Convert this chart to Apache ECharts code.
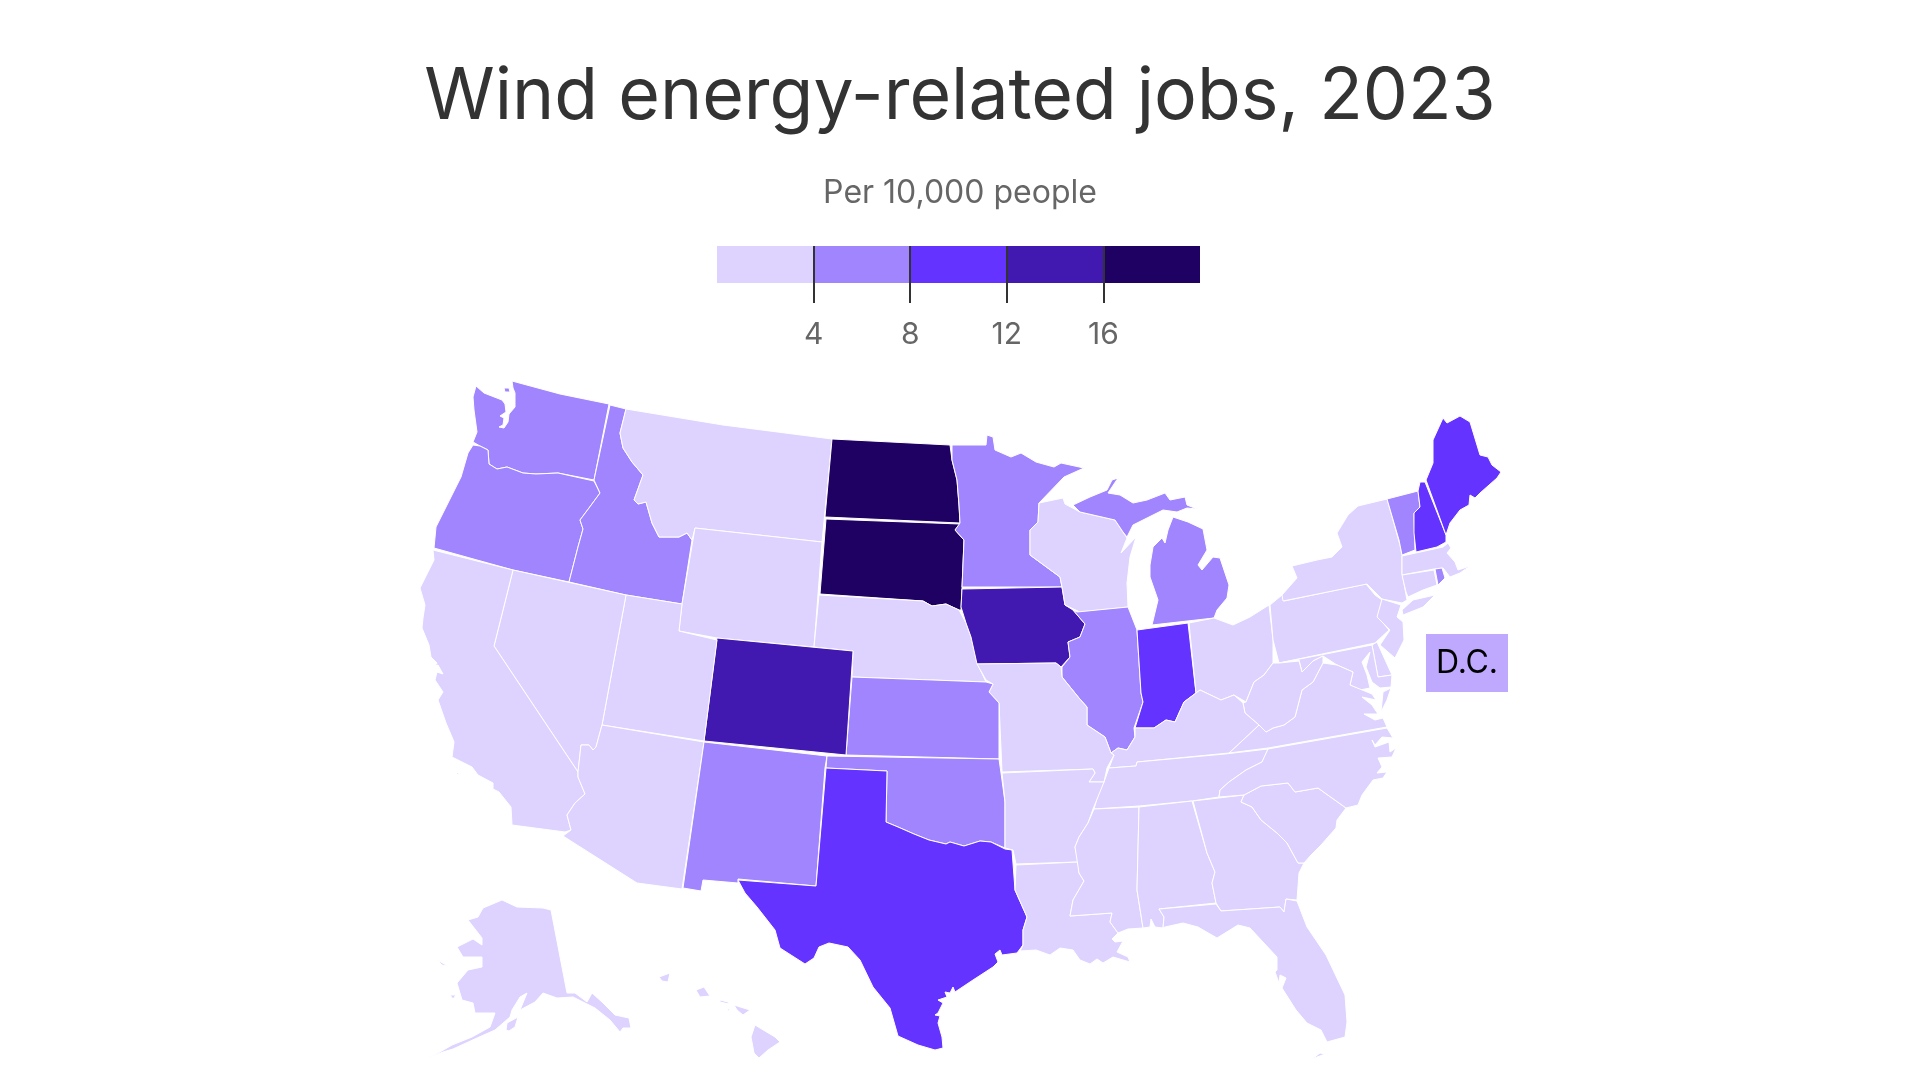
<!DOCTYPE html>
<html>
<head>
<meta charset="utf-8">
<title>Wind energy-related jobs, 2023</title>
<script src="https://cdn.jsdelivr.net/npm/echarts@6/dist/echarts.min.js"></script>
<style>
  html, body { margin: 0; background: #fff; }
  #chart { width: 1920px; height: 1080px; }
</style>
</head>
<body>
<div id="chart"></div>
<script>
// colour bins, upper bound of each bin in jobs per 10,000 people
const binEdges = [4, 8, 12, 16, 20]
const binColors = ['#ded3ff', '#a185ff', '#6533ff', '#4118b0', '#1f0063']
const tickLabels = [4, 8, 12, 16]
const dcColor = '#bfa9ff'

// values read from the shade of each state, estimated at mid bin
const lowStates = ['California', 'Nevada', 'Utah', 'Arizona', 'Montana', 'Wyoming', 'Nebraska', 'Missouri',
  'Arkansas', 'Louisiana', 'Wisconsin', 'Ohio', 'Kentucky', 'Tennessee', 'Mississippi', 'Alabama', 'Georgia',
  'Florida', 'South Carolina', 'North Carolina', 'Virginia', 'West Virginia', 'Pennsylvania', 'New York',
  'New Jersey', 'Delaware', 'Maryland', 'Connecticut', 'Massachusetts', 'Alaska', 'Hawaii']
const lowValues = lowStates.map(() => 2)
const midStates = ['Washington', 'Oregon', 'Idaho', 'New Mexico', 'Kansas', 'Oklahoma', 'Minnesota', 'Illinois',
  'Michigan', 'Vermont', 'Rhode Island']
const midValues = [6, 6, 6, 6, 6, 6, 6, 6, 6, 6, 6]
const highStates = ['Texas', 'Indiana', 'Maine', 'New Hampshire']
const highValues = [10, 10, 10, 10]
const veryHighStates = ['Colorado', 'Iowa']
const veryHighValues = [14, 14]
const topStates = ['North Dakota', 'South Dakota']
const topValues = [18, 18]

// state outlines, traced in the page's 1920x1080 space
const outlines = {
  'Washington': ['476,386 484,393 502,400 505,404 506,412 500,416 504,418 503,425 499,427 504,428 508,422 509,414 515,407 515,393 513,388 512,381 560,394 609,404 594,480 558,473 536,474 523,473 507,467 497,469 489,464 488,450 480,446 473,442 477,432 474,410 473,397',
    '504,388 509,388 510,392 505,392'],
  'Oregon': ['473,445 480,446 488,450 489,464 497,469 507,467 523,473 536,474 558,473 594,481 600,493 589,508 580,520 583,529 578,547 569,582 513,570 434,548 436,527 448,503 461,477 468,453'],
  'Idaho': ['610,405 626,409 620,433 623,448 632,462 643,475 634,500 638,504 646,502 652,523 659,537 679,537 687,533 692,540 682,604 626,595 569,582 578,547 583,529 580,520 589,508 600,493 594,480'],
  'Montana': ['626,409 723,425 832,439 822,542 695,528 692,540 687,533 679,537 659,537 652,523 646,502 638,504 634,500 643,475 632,462 623,448 620,433'],
  'Wyoming': ['695,528 822,542 814,647 717,638 679,631 682,604'],
  'North Dakota': ['832,439 950,445 952,460 957,480 959,505 960,523 825,517'],
  'South Dakota': ['826,519 960,524 955,530 964,540 962,588 961,610 959,610 946,604 932,606 923,601 820,594'],
  'Nebraska': ['819,595 923,601 932,606 946,604 959,610 966,623 971,637 977,663 986,682 852,677 853,651 814,647'],
  'Minnesota': ['952,445 986,445 987,435 993,437 995,450 1011,457 1021,453 1036,462 1054,467 1061,463 1084,468 1064,477 1039,503 1038,522 1030,530 1030,555 1060,577 1062,587 962,587 964,540 955,530 960,523 959,505 957,480 952,460'],
  'Iowa': ['962,589 1062,587 1065,605 1073,610 1085,624 1080,637 1068,642 1070,657 1061,667 1056,663 977,664 971,637 966,623 961,607'],
  'Wisconsin': ['1039,503 1063,498 1065,504 1080,512 1115,520 1123,532 1127,538 1121,553 1136,537 1130,557 1127,583 1128,607 1080,612 1065,605 1062,587 1060,577 1030,555 1030,530 1038,522'],
  'Michigan': ['1073,505 1090,497 1107,490 1112,480 1118,478 1108,493 1120,495 1133,503 1147,500 1165,493 1170,500 1185,497 1187,505 1197,509 1187,508 1177,512 1163,510 1147,518 1133,525 1127,537 1123,532 1115,520 1080,512',
    '1173,517 1188,522 1203,529 1207,550 1198,565 1202,570 1213,557 1220,558 1229,585 1227,598 1217,610 1214,618 1152,625 1158,600 1150,577 1150,565 1153,547 1162,538 1165,543 1168,530'],
  'Illinois': ['1077,612 1128,607 1137,630 1141,693 1143,702 1134,728 1135,737 1127,750 1118,748 1111,753 1105,737 1087,725 1087,707 1079,698 1062,677 1062,667 1070,657 1068,642 1080,637 1085,624 1073,610'],
  'Indiana': ['1137,630 1188,623 1196,693 1184,702 1175,722 1166,720 1154,728 1135,728 1143,702 1141,693'],
  'Ohio': ['1189,623 1214,618 1233,625 1250,617 1269,605 1273,640 1273,663 1264,675 1254,682 1246,702 1234,695 1221,700 1200,690 1196,693'],
  'Pennsylvania': ['1270,605 1282,595 1284,601 1366,584 1375,595 1382,600 1378,617 1389,630 1375,643 1279,663 1273,640'],
  'New York': ['1292,566 1317,560 1332,557 1342,547 1337,533 1348,515 1358,506 1387,499 1400,545 1402,555 1402,573 1407,600 1402,603 1382,599 1367,584 1283,601 1282,595 1297,578',
    '1402,610 1413,600 1435,595 1423,607 1403,615'],
  'New Jersey': ['1382,599 1401,605 1397,617 1403,622 1404,640 1395,658 1380,645 1390,630 1377,617'],
  'Vermont': ['1387,499 1418,491 1420,507 1414,513 1415,550 1402,555 1399,540'],
  'New Hampshire': ['1420,482 1425,482 1446,535 1446,542 1437,547 1416,552 1414,533 1414,513 1420,507 1418,491'],
  'Maine': ['1443,418 1447,423 1460,416 1470,422 1480,455 1488,457 1492,465 1501,472 1497,478 1480,493 1475,498 1470,495 1469,505 1460,510 1450,523 1446,535 1426,480 1433,463 1433,440'],
  'Massachusetts': ['1402,556 1443,547 1448,543 1451,548 1447,553 1455,562 1458,570 1470,566 1460,573 1450,577 1443,568 1434,569 1402,575'],
  'Rhode Island': ['1435,569 1442,568 1445,578 1438,585'],
  'Connecticut': ['1402,575 1434,570 1437,585 1423,590 1408,597 1406,592'],
  'Delaware': ['1372,645 1377,642 1382,653 1392,675 1378,677'],
  'Maryland': ['1279,663 1372,645 1378,677 1392,675 1391,687 1380,688 1372,682 1366,667 1370,652 1362,662 1367,675 1370,688 1360,690 1350,685 1353,672 1337,665 1323,656 1313,661 1302,672 1299,660'],
  'Virginia': ['1229,753 1243,740 1259,725 1266,732 1273,728 1284,725 1295,717 1302,690 1313,682 1323,663 1337,665 1353,672 1350,685 1372,694 1376,700 1362,697 1372,705 1378,714 1364,714 1375,720 1383,718 1387,727 1268,748',
    '1391,688 1383,692 1381,712 1387,700'],
  'West Virginia': ['1299,661 1302,672 1313,661 1323,656 1323,663 1313,682 1302,690 1295,717 1284,725 1273,728 1266,732 1259,725 1245,713 1243,703 1246,702 1254,682 1264,675 1273,663 1279,663'],
  'Kentucky': ['1200,690 1221,700 1234,695 1243,703 1245,713 1259,725 1243,740 1229,753 1137,762 1136,766 1109,768 1114,755 1111,753 1118,748 1127,750 1135,737 1135,728 1154,728 1166,720 1175,722 1184,702 1196,693'],
  'Tennessee': ['1109,768 1136,766 1137,762 1225,754 1268,749 1262,762 1246,770 1229,782 1220,790 1219,797 1192,801 1139,806 1094,809 1100,788 1104,782'],
  'Missouri': ['977,664 1056,663 1061,667 1062,677 1079,698 1087,707 1087,725 1105,737 1111,753 1114,755 1107,768 1104,782 1089,782 1095,773 1093,769 1002,772 999,703 989,692 993,684 986,680'],
  'Kansas': ['852,677 986,682 993,684 989,692 999,703 999,759 846,755'],
  'Colorado': ['717,638 853,651 846,755 704,741'],
  'Utah': ['626,595 682,604 679,631 717,640 704,741 602,725'],
  'Nevada': ['513,570 626,595 602,725 596,747 593,750 589,745 581,745 578,772 494,646'],
  'California': ['433,550 513,570 494,646 578,772 578,777 585,794 575,803 567,815 571,830 565,832 512,825 511,807 499,792 493,789 493,783 478,775 472,767 452,757 454,742 452,737 446,723 438,700 443,692 435,680 437,672 443,674 438,665 435,666 437,663 431,657 429,645 422,628 423,618 425,605 420,588 428,572 434,560',
    '456,773 459,773 458,775'],
  'Arizona': ['602,725 704,742 682,889 637,883 563,836 571,830 567,815 575,803 585,794 578,777 578,772 581,745 589,745 593,750 596,747'],
  'New Mexico': ['704,742 827,756 825,768 816,886 738,879 738,883 703,880 701,891 683,888'],
  'Oklahoma': ['827,756 999,759 1001,773 1005,802 1005,848 991,842 980,841 964,846 950,842 946,844 929,840 914,834 898,827 886,822 887,771 826,768'],
  'Texas': ['826,768 887,771 886,822 898,827 914,834 929,840 946,844 950,842 964,846 980,841 991,842 1005,849 1012,850 1015,890 1027,917 1023,930 1023,945 1017,953 1002,955 1000,950 995,954 998,962 993,967 973,980 955,992 953,987 950,993 945,992 947,997 938,1000 943,1003 938,1013 935,1015 940,1016 938,1023 942,1037 943,1048 935,1050 918,1045 898,1036 890,1008 873,987 860,960 848,947 829,943 819,947 814,958 805,964 780,948 775,930 757,907 745,893 738,880 816,886'],
  'Arkansas': ['1002,773 1093,769 1095,773 1089,782 1104,782 1093,809 1088,823 1079,837 1075,847 1078,862 1016,864 1013,850 1005,848 1005,802'],
  'Louisiana': ['1016,865 1078,862 1079,873 1084,881 1073,900 1070,916 1112,913 1110,922 1118,933 1112,939 1115,942 1123,941 1117,952 1128,957 1130,962 1113,957 1103,963 1097,959 1090,964 1080,960 1073,950 1060,948 1050,955 1036,950 1020,951 1023,945 1023,930 1027,917 1015,890'],
  'Mississippi': ['1094,809 1139,807 1137,890 1143,928 1128,929 1118,933 1110,922 1112,913 1070,916 1073,900 1084,881 1079,873 1075,847 1079,837 1088,823'],
  'Alabama': ['1139,807 1192,801 1207,853 1215,872 1212,883 1216,903 1159,909 1164,917 1163,928 1155,927 1151,919 1150,927 1143,928 1137,890'],
  'Georgia': ['1193,801 1244,795 1241,802 1252,807 1261,820 1277,833 1287,843 1298,863 1304,863 1299,873 1297,900 1286,899 1284,912 1280,907 1221,911 1216,903 1212,883 1215,872 1207,853'],
  'Florida': ['1159,909 1216,904 1221,911 1280,907 1284,912 1286,899 1297,901 1307,927 1326,955 1345,995 1347,1022 1345,1037 1327,1042 1321,1030 1307,1023 1296,1010 1282,988 1286,978 1280,975 1279,983 1275,972 1277,970 1277,957 1263,942 1250,928 1238,925 1217,938 1198,927 1183,923 1165,927 1163,928 1164,917',
    '1312,1059 1325,1054 1320,1053'],
  'South Carolina': ['1244,795 1261,786 1288,783 1295,792 1318,788 1346,808 1337,820 1336,828 1321,845 1311,855 1304,863 1298,863 1287,843 1277,833 1261,820 1252,807 1241,802'],
  'North Carolina': ['1268,749 1387,728 1393,738 1382,737 1375,745 1372,740 1375,747 1389,742 1390,752 1396,748 1392,757 1378,758 1382,767 1377,773 1387,772 1383,778 1373,780 1362,795 1358,805 1346,808 1318,788 1295,792 1288,783 1261,786 1244,795 1219,797 1220,790 1229,782 1246,770 1262,762'],
  'Alaska': ['551,910 567,993 575,993 587,1002 592,993 602,1002 615,1015 629,1018 631,1028 623,1028 620,1032 610,1020 595,1008 583,1002 573,997 557,998 543,993 535,1002 520,1010 527,993 520,997 512,1010 510,1017 495,1030 477,1038 453,1049 443,1052 428,1058 440,1052 452,1045 472,1037 490,1027 495,1013 475,1013 473,1003 462,1000 457,983 468,970 482,967 482,957 463,957 457,947 473,939 482,945 482,938 468,920 478,917 483,908 502,900 517,907 543,908',
    '437,960 448,966 442,965', '450,995 456,995 453,999', '506,1030 507,1023 518,1017 515,1027 509,1031'],
  'Hawaii': ['659,977 670,973 668,982 662,981', '696,990 704,987 710,996 700,997', '720,1000 728,1002 729,1004 720,1002',
    '734,1005 750,1010 743,1015 737,1010', '727,1008 730,1010 728,1011', '755,1025 775,1037 780,1042 768,1050 759,1058 754,1053 751,1037']
}

function outlinePath(rings) {
  return rings.map((ring) => 'M' + ring.split(' ').join('L') + 'Z').join('')
}

function buildSvg() {
  const paths = Object.keys(outlines).map((name) => {
    return '<path name="' + name + '" d="' + outlinePath(outlines[name]) + '"/>'
  })
  // the D.C. call-out sits next to the map as a plain box
  paths.push('<rect name="D.C." x="1426" y="634" width="82" height="58"/>')
  return '<svg xmlns="http://www.w3.org/2000/svg" width="1920" height="1080" viewBox="0 0 1920 1080">' + paths.join('') + '</svg>'
}

function colorFor(value) {
  return binColors[binEdges.findIndex((edge) => value < edge)]
}

function stateData(names, values) {
  return names.map((name, i) => ({
    name: name,
    value: values[i],
    itemStyle: { areaColor: colorFor(values[i]) },
  }))
}

const mapData = [
  ...stateData(lowStates, lowValues),
  ...stateData(midStates, midValues),
  ...stateData(highStates, highValues),
  ...stateData(veryHighStates, veryHighValues),
  ...stateData(topStates, topValues),
  {
    name: 'D.C.',
    value: 5,
    itemStyle: { areaColor: dcColor, borderWidth: 0 },
    label: { show: true, color: '#000', fontSize: 32, fontFamily: 'Inter' },
  },
]

echarts.registerMap('usStates', { svg: buildSvg() })

const chart = echarts.init(document.getElementById('chart'))

// legend strip is a stacked bar on a value axis
const legendSeries = binEdges.map((edge, i) => ({
  type: 'bar',
  stack: 'legend',
  barWidth: '100%',
  silent: true,
  data: [edge - (i ? binEdges[i - 1] : 0)],
  itemStyle: { color: binColors[i] },
}))

chart.setOption({
  animation: false,
  backgroundColor: '#fff',
  title: [
    {
      text: 'Wind energy-related jobs, 2023',
      left: 'center',
      top: 56,
      textStyle: { fontFamily: 'Inter', fontSize: 71.5, fontWeight: 400, color: '#333' },
    },
    {
      text: 'Per 10,000 people',
      left: 'center',
      top: 172,
      textStyle: { fontFamily: 'Inter', fontSize: 32, fontWeight: 400, color: '#666' },
    },
  ],
  grid: { left: 717, top: 246, width: 483, height: 37 },
  xAxis: {
    type: 'value',
    position: 'top',
    min: 0,
    max: 20,
    interval: 4,
    z: 5,
    splitLine: { show: false },
    axisLine: { show: false },
    axisTick: {
      show: true,
      inside: true,
      length: 57,
      customValues: tickLabels,
      lineStyle: { color: '#333', width: 2 },
    },
    axisLabel: {
      inside: true,
      margin: 74,
      customValues: tickLabels,
      color: '#666',
      fontFamily: 'Inter',
      fontSize: 30,
    },
  },
  yAxis: { type: 'category', data: ['legend'], show: false },
  series: [
    ...legendSeries,
    {
      type: 'map',
      map: 'usStates',
      left: 0,
      top: 0,
      width: 1920,
      height: 1080,
      roam: false,
      silent: true,
      label: { show: false },
      itemStyle: { borderColor: '#fff', borderWidth: 1 },
      emphasis: { disabled: true },
      select: { disabled: true },
      data: mapData,
    },
  ],
})
</script>
</body>
</html>
